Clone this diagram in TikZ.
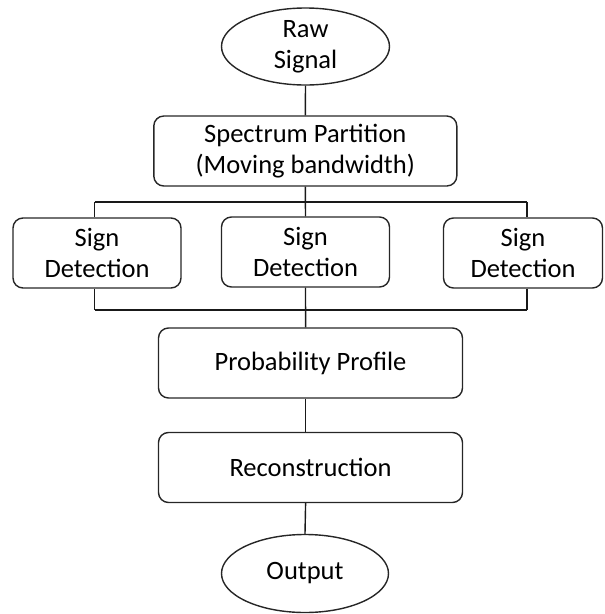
\documentclass[tikz,border=0pt]{standalone}
\usepackage{fontspec}
\setmainfont{Carlito}
\usetikzlibrary{shapes.geometric,calc}
\begin{document}
\begin{tikzpicture}[x=1pt,y=-1pt,
  every node/.style={font=\fontsize{26.5}{31}\selectfont, align=center, inner sep=0pt},
  stepbox/.style={draw=black!85, line width=1.4pt, rounded corners=10pt, rectangle},
  terminal/.style={draw=black!85, line width=1.4pt, ellipse},
  link/.style={draw=black!90, line width=1.4pt}]
\useasboundingbox (0,0) rectangle (605,614);
% terminals and processing steps
\node[terminal, minimum width=168pt, minimum height=77pt] (raw) at (305.5,46.5) {Raw\\Signal};
\node[stepbox, minimum width=303pt, minimum height=70pt] (spec) at (305.3,151) {Spectrum Partition\\(Moving bandwidth)};
\node[stepbox, minimum width=168pt, minimum height=70pt] (sd1) at (97,253) {Sign\\Detection};
\node[stepbox, minimum width=168pt, minimum height=70pt] (sd2) at (305.5,252) {Sign\\Detection};
\node[stepbox, minimum width=159pt, minimum height=70pt] (sd3) at (523,253) {Sign\\Detection};
\node[stepbox, minimum width=304pt, minimum height=70pt] (prob) at (310.5,363) {Probability Profile};
\node[stepbox, minimum width=304pt, minimum height=70pt] (recon) at (310.5,467.5) {Reconstruction};
\node[terminal, minimum width=167pt, minimum height=78pt] (out) at (305,573.5) {Output};
% bus lines splitting and merging the three branches
\coordinate (split) at (305.6,202);
\coordinate (merge) at (305.6,310);
\coordinate (ltop) at (94.5,202);
\coordinate (rtop) at (527,202);
\coordinate (lbot) at (94.5,310);
\coordinate (rbot) at (527,310);
% connectors
\draw[link] (raw.south) -- (spec.north);
\draw[link] (spec.south) -- (sd2.north);
\draw[link] (ltop) -- (rtop);
\draw[link] (ltop) -- (ltop |- sd1.north);
\draw[link] (rtop) -- (rtop |- sd3.north);
\draw[link] (lbot) -- (rbot);
\draw[link] (lbot |- sd1.south) -- (lbot);
\draw[link] (rbot |- sd3.south) -- (rbot);
\draw[link] (sd2.south) -- (merge |- prob.north);
\draw[link] (merge |- prob.south) -- (merge |- recon.north);
\draw[link] (merge |- recon.south) -- (out.north);
\end{tikzpicture}
\end{document}
